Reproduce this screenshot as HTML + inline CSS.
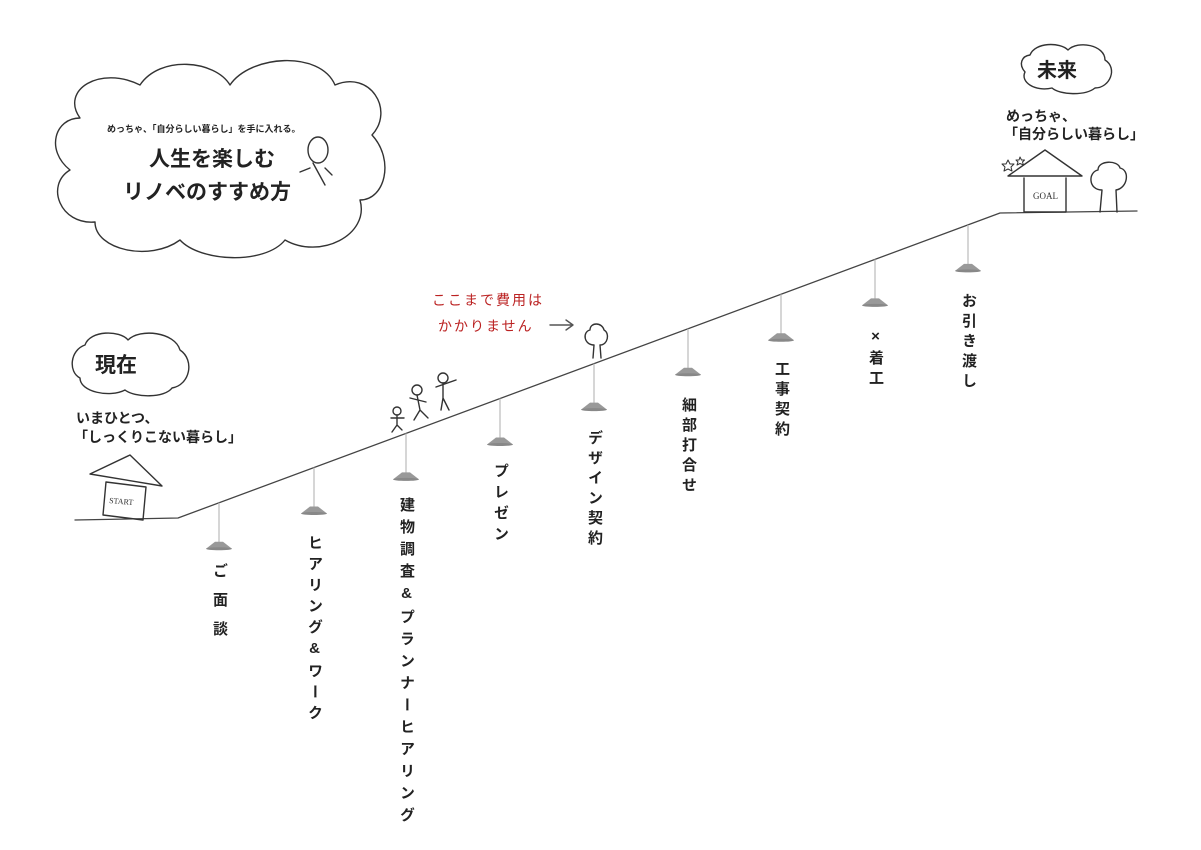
<!DOCTYPE html>
<html><head><meta charset="utf-8"><style>
html,body{margin:0;padding:0;background:#fff;}
#c{position:relative;width:1201px;height:850px;overflow:hidden;font-family:"Liberation Sans","Noto Sans CJK JP",sans-serif;color:#222;}
.v{position:absolute;writing-mode:vertical-rl;text-orientation:upright;font-size:15px;font-weight:bold;line-height:16px;transform:translateX(-50%);}
.t{position:absolute;font-weight:bold;white-space:nowrap;}
svg{position:absolute;left:0;top:0;}
</style></head><body><div id="c">
<svg width="1201" height="850" viewBox="0 0 1201 850">
<g fill="none" stroke="#333" stroke-width="1.4" stroke-linecap="round" stroke-linejoin="round">
<path d="M80,118 C60,90 100,65 140,85 C160,55 215,60 230,85 C250,55 320,50 335,85 C370,70 395,110 372,135 C395,160 385,200 360,200 C370,235 320,260 285,240 C265,265 200,262 180,240 C150,262 95,250 95,222 C60,225 45,185 70,170 C45,150 55,118 80,118 Z"/>
<path d="M85,345 C90,330 120,330 128,340 C140,328 175,332 180,350 C195,360 190,385 172,388 C165,398 135,398 125,390 C110,398 80,392 80,378 C68,372 70,350 85,345 Z"/>
<path d="M1030,55 C1035,42 1060,42 1068,50 C1078,40 1105,45 1105,60 C1118,68 1110,88 1095,88 C1085,96 1060,95 1052,88 C1035,92 1020,82 1025,72 C1018,64 1022,56 1030,55 Z"/>
<path d="M75,520 L178,518 L1000,213 L1137,211" stroke="#444" stroke-width="1.3"/>
<!-- start house -->
<path d="M90,474 L130,455 L162,486 Z"/>
<path d="M106,482 L103,515 L143,520 L146,487 Z"/>
<!-- goal house -->
<path d="M1008,176 L1045,150 L1082,176 Z"/>
<path d="M1024,178 L1024,212 M1066,178 L1066,212 M1024,212 L1066,212"/>
<path d="M1100,212 L1102,190 C1088,190 1088,172 1098,170 C1098,160 1118,160 1120,168 C1130,170 1128,188 1116,190 L1117,212"/>
<path d="M1008,160 l2,4 4,0 -3,3 1,4 -4,-2 -4,2 1,-4 -3,-3 4,0 Z" stroke-width="1"/>
<path d="M1020,157 l1.5,3 3,0 -2,2 1,3 -3.5,-1.5 -3,1.5 1,-3 -2,-2 3,0 Z" stroke-width="1"/>
<path d="M593,358 L594,345 C584,345 582,332 590,330 C590,322 602,322 604,330 C610,333 608,345 600,345 L601,358"/>
<circle cx="397" cy="411" r="4"/><path d="M397,415 L397,425 M397,425 L392,432 M397,425 L402,430 M391,418 L404,418"/>
<circle cx="417" cy="390" r="5"/><path d="M417,395 L420,410 L414,420 M420,410 L428,418 M410,398 L426,402"/>
<circle cx="443" cy="378" r="5"/><path d="M443,383 L443,398 L441,410 M443,398 L449,410 M436,387 L456,380"/>
<path d="M550,325 L573,325 M566,320 L573,325 L566,330" stroke="#555"/>
<ellipse cx="318" cy="150" rx="10" ry="13"/>
<path d="M313,163 L325,185 M310,168 L300,172 M325,168 L332,175"/>
</g>
<g id="lamps"></g>
<text x="1033" y="199" font-family="Liberation Serif,serif" font-size="9" fill="#333">GOAL</text>
<text x="109" y="503" font-family="Liberation Serif,serif" font-size="8" fill="#333" transform="rotate(5 109 503)">START</text>
</svg>
<script>
var xs=[219,314,406,500,594,688,781,875,968];
var g='';
xs.forEach(function(x){var ly=518-0.371*(x-178);var sy=ly+44;
g+='<line x1="'+x+'" y1="'+ly+'" x2="'+x+'" y2="'+(sy-4)+'" stroke="#bbb" stroke-width="1.2"/>';
g+='<path d="M'+(x-4)+','+(sy-5)+' L'+(x+4)+','+(sy-5)+' L'+(x+13)+','+(sy+2)+' L'+(x-13)+','+(sy+2)+' Z" fill="#999"/>';
g+='<ellipse cx="'+x+'" cy="'+(sy+2)+'" rx="13" ry="1.5" fill="#888"/>';});
document.getElementById('lamps').innerHTML=g;
</script>
<div class="t" style="left:107px;top:122px;font-size:9px;">めっちゃ、「自分らしい暮らし」を手に入れる。</div>
<div class="t" style="left:149px;top:143px;font-size:21px;">人生を楽しむ</div>
<div class="t" style="left:123px;top:176px;font-size:21px;">リノベのすすめ方</div>
<div class="t" style="left:95px;top:349px;font-size:21px;">現在</div>
<div class="t" style="left:76px;top:408px;font-size:14px;">いまひとつ、</div>
<div class="t" style="left:74px;top:427px;font-size:14px;">「しっくりこない暮らし」</div>
<div class="t" style="left:1037px;top:54px;font-size:20px;">未来</div>
<div class="t" style="left:1006px;top:106px;font-size:14px;">めっちゃ、</div>
<div class="t" style="left:1004px;top:124px;font-size:14px;">「自分らしい暮らし」</div>
<div class="t" style="left:432px;top:290px;font-size:14px;color:#b22;font-weight:normal;letter-spacing:2px;">ここまで費用は</div>
<div class="t" style="left:438px;top:316px;font-size:14px;color:#b22;font-weight:normal;letter-spacing:2px;">かかりません</div>
<div class="v" style="left:219px;top:563px;letter-spacing:14px;">ご面談</div>
<div class="v" style="left:314px;top:535px;letter-spacing:6px;">ヒアリング&amp;ワーク</div>
<div class="v" style="left:406px;top:497px;letter-spacing:7px;">建物調査&amp;プランナーヒアリング</div>
<div class="v" style="left:500px;top:463px;letter-spacing:6px;">プレゼン</div>
<div class="v" style="left:594px;top:430px;letter-spacing:5px;">デザイン契約</div>
<div class="v" style="left:688px;top:397px;letter-spacing:5px;">細部打合せ</div>
<div class="v" style="left:781px;top:361px;letter-spacing:5px;">工事契約</div>
<div class="v" style="left:875px;top:328px;letter-spacing:5px;">×着工</div>
<div class="v" style="left:968px;top:293px;letter-spacing:5px;">お引き渡し</div>
</div></body></html>
